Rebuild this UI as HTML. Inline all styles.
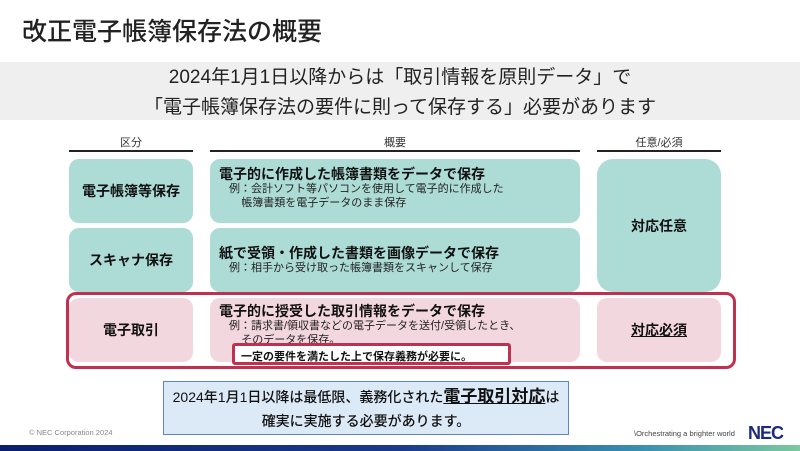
<!DOCTYPE html>
<html><head><meta charset="utf-8"><style>
*{margin:0;padding:0;box-sizing:border-box}
body{width:800px;height:451px;position:relative;background:#fff;font-family:"Liberation Sans","Noto Sans CJK JP",sans-serif;color:#111;overflow:hidden}
.a{position:absolute}
.t{background:#acdcd5;border-radius:10px}
.p{background:#f3d7de;border-radius:10px}
.c{display:flex;align-items:center;justify-content:center;font-weight:bold;font-size:14px}
.h{font-size:11px;text-align:center;color:#333}
.ln{height:2px;background:#222}
.bx{padding:7px 0 0 9px}
.bx b{font-size:14px;display:block;line-height:17px}
.bx span{font-size:11px;display:block;padding-left:10px;line-height:13.5px;color:#222}
</style></head><body>
<div class="a" style="left:22px;top:12px;font-size:25px;font-weight:500;color:#222">改正電子帳簿保存法の概要</div>
<div class="a" style="left:0;top:62px;width:800px;height:58px;background:#efefef;text-align:center;font-size:19px;line-height:30px;color:#222;padding-top:1px">2024年1月1日以降からは「取引情報を原則データ」で<br>「電子帳簿保存法の要件に則って保存する」必要があります</div>
<div class="a h" style="left:69px;top:134px;width:124px">区分</div>
<div class="a h" style="left:210px;top:134px;width:370px">概要</div>
<div class="a h" style="left:597px;top:134px;width:124px">任意/必須</div>
<div class="a ln" style="left:69px;top:150px;width:124px"></div>
<div class="a ln" style="left:210px;top:150px;width:370px"></div>
<div class="a ln" style="left:597px;top:150px;width:124px"></div>
<div class="a t c" style="left:69px;top:159px;width:124px;height:64px">電子帳簿等保存</div>
<div class="a t c" style="left:69px;top:228px;width:124px;height:64px">スキャナ保存</div>
<div class="a p c" style="left:69px;top:298px;width:124px;height:64px">電子取引</div>
<div class="a t bx" style="left:210px;top:159px;width:370px;height:64px"><b>電子的に作成した帳簿書類をデータで保存</b><span>例：会計ソフト等パソコンを使用して電子的に作成した<br>&nbsp;&nbsp;&nbsp;&nbsp;帳簿書類を電子データのまま保存</span></div>
<div class="a t bx" style="left:210px;top:228px;width:370px;height:64px;padding-top:17px"><b>紙で受領・作成した書類を画像データで保存</b><span>例：相手から受け取った帳簿書類をスキャンして保存</span></div>
<div class="a p bx" style="left:210px;top:298px;width:370px;height:64px;padding-top:5px"><b>電子的に授受した取引情報をデータで保存</b><span>例：請求書/領収書などの電子データを送付/受領したとき、<br>&nbsp;&nbsp;&nbsp;&nbsp;そのデータを保存。</span></div>
<div class="a t c" style="left:597px;top:159px;width:124px;height:133px;border-radius:16px">対応任意</div>
<div class="a p c" style="left:597px;top:298px;width:124px;height:64px;text-decoration:underline">対応必須</div>
<div class="a" style="left:66px;top:292px;width:670px;height:77px;border:3px solid #c0304f;border-radius:10px"></div>
<div class="a" style="left:232px;top:343px;width:279px;height:22px;border:3px solid #c0304f;border-radius:3px;background:#fff;font-size:11px;font-weight:bold;padding:2px 0 0 6px">一定の要件を満たした上で保存義務が必要に。</div>
<div class="a" style="left:163px;top:381px;width:406px;height:54px;background:#dce9f7;border:1px solid #5a86c5;text-align:center;font-size:14px;font-weight:500;line-height:24px;padding-top:3px">2024年1月1日以降は最低限、義務化された<span style="font-size:17px;font-weight:bold;text-decoration:underline">電子取引対応</span>は<br>確実に実施する必要があります。</div>
<div class="a" style="left:29px;top:428px;font-size:7.5px;color:#888">© NEC Corporation 2024</div>
<div class="a" style="left:634px;top:429px;font-size:7.5px;color:#444">\Orchestrating a brighter world</div>
<div class="a" style="left:748px;top:423px;font-size:18px;font-weight:bold;color:#1b2a7a;letter-spacing:-1px">NEC</div>
<div class="a" style="left:0;top:445px;width:800px;height:6px;background:linear-gradient(90deg,#0b1e6e 0%,#1b3a8a 50%,#3a8fb0 80%,#7cc8a0 100%)"></div>
</body></html>
